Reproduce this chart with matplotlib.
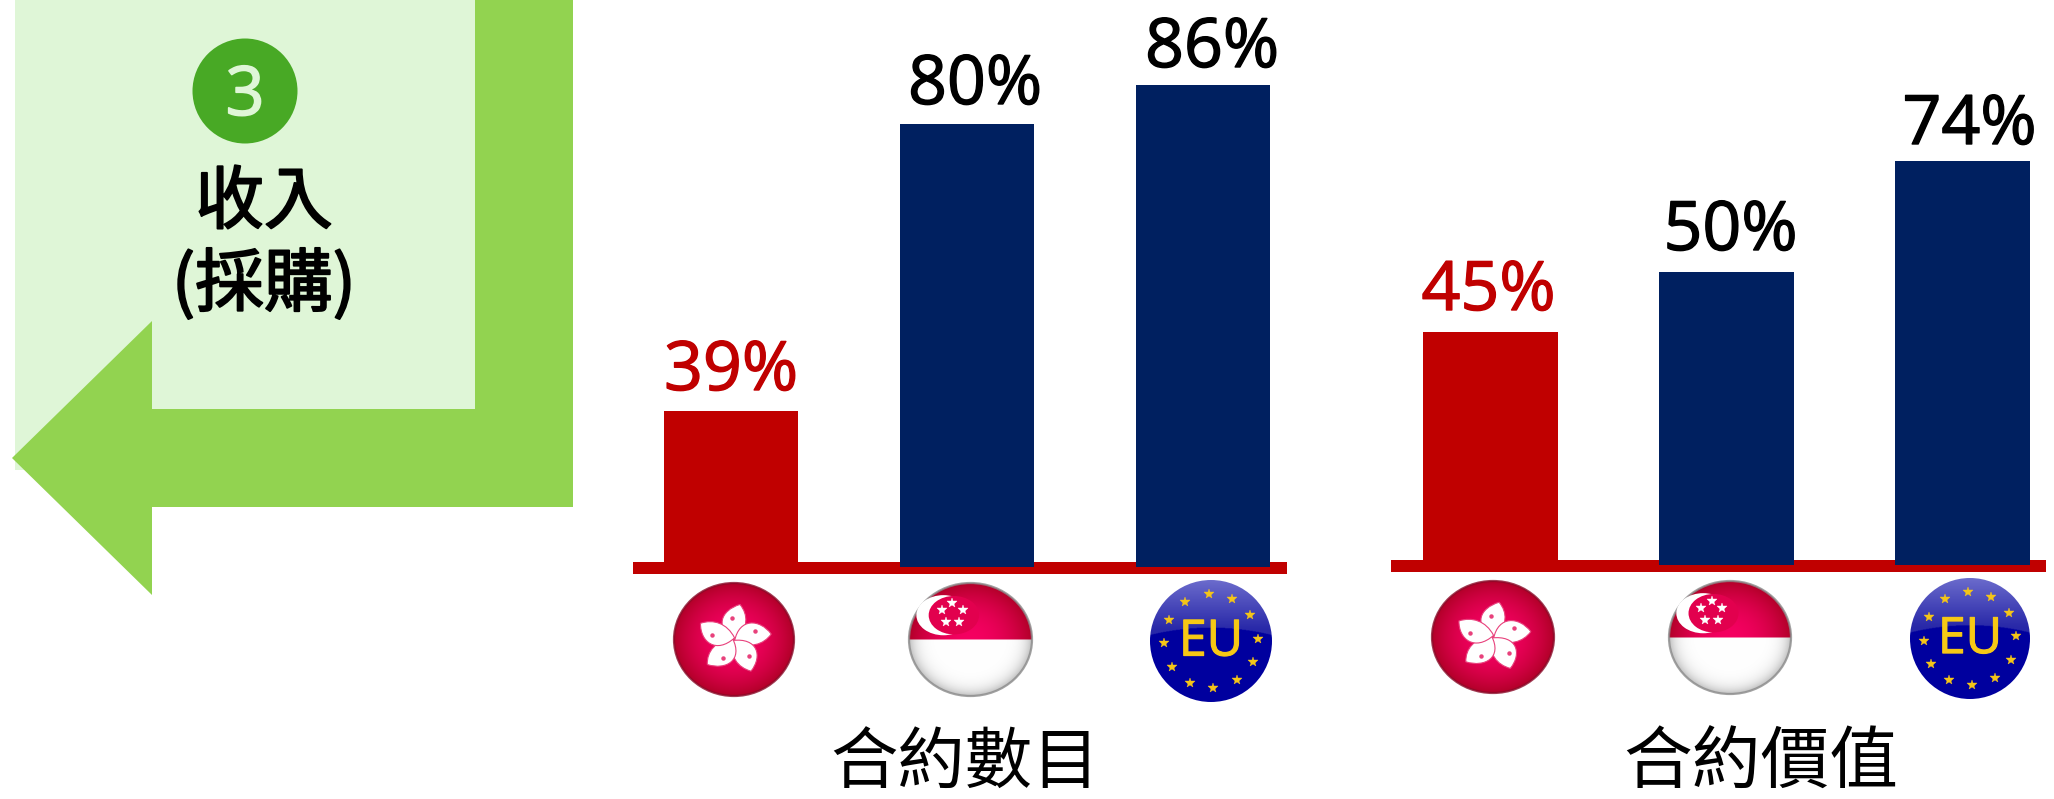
import numpy as np
import matplotlib
matplotlib.use("Agg")
from matplotlib import pyplot as plt
from matplotlib import patheffects as pe
from matplotlib.patches import Circle, Ellipse, PathPatch, Polygon, Rectangle
from matplotlib.path import Path

W, H = 2054, 799
CJK = ["Noto Sans CJK TC", "DejaVu Sans"]
LATIN = ["Open Sans", "DejaVu Sans"]
RED = "#C00000"
NAVY = "#002060"

flags = ["hk", "sg", "eu"]
count_labels = ["39%", "80%", "86%"]
value_labels = ["45%", "50%", "74%"]
# bar heights as drawn in the picture (pixels), they do not scale with the labels
count_heights = [156, 443, 482]
value_heights = [233, 293, 404]
count_title = "合約數目"
value_title = "合約價值"
badge_number = "3"
side_lines = ["收入", "(採購)"]


def heavy(text, width, color):
    text.set_path_effects([pe.withStroke(linewidth=width, foreground=color)])


def pixel_axes(fig, left, right, top, bottom):
    return fig.add_axes([left / W, 1 - bottom / H, (right - left) / W, (bottom - top) / H])


def bar_panel(fig, left, right, baseline, first, step, heights, labels, label_gaps, label_shift):
    ax = pixel_axes(fig, left, right, 0, baseline + 16)
    ax.set_xlim((left - first) / step, (right - first) / step)
    ax.set_ylim(-16, baseline)
    ax.axis("off")
    ax.add_patch(Rectangle((ax.get_xlim()[0], -7), np.diff(ax.get_xlim())[0], 12, color=RED, lw=0, zorder=1))
    colors = [RED, NAVY, NAVY]
    ax.bar(range(3), heights, width=0.572, color=colors, zorder=2)
    for i, (h, lab) in enumerate(zip(heights, labels)):
        color = colors[i] if i == 0 else "black"
        t = ax.text(i + label_shift[i] / step, h + label_gaps[i], lab, color=color,
                    ha="center", va="baseline", fontsize=49, family=LATIN, zorder=3)
        heavy(t, 1.0, color)
    return ax


def gradient(ax, cx, cy, rx, ry, kind):
    yy, xx = np.mgrid[-1:1:240j, -1:1:240j]
    r = np.clip(np.hypot(xx, yy), 0, 1)[..., None]
    if kind == "eu":
        top = np.array([0.42, 0.42, 0.80])
        mid = np.array([0.16, 0.16, 0.66])
        low = np.array([0.0, 0.0, 0.62])
        t = np.clip((yy[..., None] + 1) / 0.8, 0, 1)
        img = top * (1 - t) + mid * t
        edge = -0.22 + 0.12 * xx[..., None] ** 2
        img = np.where(yy[..., None] > edge, low, img)
    else:
        inner = np.array([0.96, 0.0, 0.38])
        outer = np.array([0.70, 0.0, 0.16])
        img = inner * (1 - r ** 2) + outer * r ** 2
        if kind == "sg":
            white = np.array([1.0, 1.0, 1.0]) * (1 - 0.25 * r ** 8)
            img = np.where(yy[..., None] > 0, white, img)
    im = ax.imshow(img, extent=(cx - rx, cx + rx, cy + ry, cy - ry), aspect="auto", zorder=2, interpolation="bilinear")
    clip = Ellipse((cx, cy), 2 * rx, 2 * ry, transform=ax.transData)
    im.set_clip_path(clip)
    if kind != "eu":
        ax.add_patch(Ellipse((cx, cy), 2 * rx, 2 * ry, fc="none", ec="#8a8a8a" if kind == "sg" else "#8a0a28",
                             lw=1.6, alpha=0.8, zorder=3))


def draw_hk(ax, cx, cy, rx, ry):
    gradient(ax, cx, cy, rx, ry, "hk")
    codes = [Path.MOVETO, Path.CURVE4, Path.CURVE4, Path.CURVE4, Path.CURVE4, Path.CURVE4, Path.CURVE4, Path.CLOSEPOLY]
    petal = np.array([[0.03, 0.0], [-0.34, 0.2], [-0.22, 0.52], [0.1, 0.62],
                      [0.24, 0.44], [0.24, 0.2], [0.03, 0.0], [0.03, 0.0]])
    for deg in [0, -72, -144, -216, -288]:
        a = np.radians(deg)
        rot = np.array([[np.cos(a), -np.sin(a)], [np.sin(a), np.cos(a)]])
        pts = petal @ rot.T
        verts = np.column_stack([cx + pts[:, 0] * rx, cy - pts[:, 1] * ry])
        ax.add_patch(PathPatch(Path(verts, codes), fc="white", ec="#e8417c", lw=0.8, zorder=4))
        dot = rot @ np.array([-0.04, 0.38])
        ax.plot(cx + dot[0] * rx, cy - dot[1] * ry, "o", ms=2.2, color="#e8417c", zorder=5)


def draw_sg(ax, cx, cy, rx, ry):
    gradient(ax, cx, cy, rx, ry, "sg")
    ax.add_patch(Ellipse((cx - 0.44 * rx, cy - 0.43 * ry), 0.88 * rx, 0.71 * ry, fc="white", lw=0, zorder=4))
    ax.add_patch(Ellipse((cx - 0.27 * rx, cy - 0.43 * ry), 0.82 * rx, 0.68 * ry, fc="#e2004e", lw=0, zorder=5))
    for a in np.radians([90, 18, -54, -126, 162]):
        ax.plot(cx - 0.3 * rx + 0.18 * rx * np.cos(a), cy - 0.46 * ry - 0.18 * ry * np.sin(a), "*",
                ms=7.5, mfc="white", mec="white", mew=0.3, zorder=6)


def draw_eu(ax, cx, cy, rx, ry):
    gradient(ax, cx, cy, rx, ry, "eu")
    for a in np.radians(np.arange(0, 360, 30) + 3):
        ax.plot(cx + 0.77 * rx * np.cos(a), cy - 0.77 * ry * np.sin(a), "*", ms=7.5, mfc="#F5C518", mec="#F5C518",
                mew=0.3, zorder=4)
    t = ax.text(cx, cy + 0.03 * ry, "EU", color="#F7C815", ha="center", va="center", fontsize=36, family=LATIN, zorder=5)
    heavy(t, 0.8, "#F7C815")


def draw_flag(ax, kind, left, right, top, bottom):
    cx, cy, rx, ry = (left + right) / 2, (top + bottom) / 2, (right - left) / 2, (bottom - top) / 2
    {"hk": draw_hk, "sg": draw_sg, "eu": draw_eu}[kind](ax, cx, cy, rx, ry)


fig = plt.figure(figsize=(W / 100, H / 100), dpi=100, facecolor="white")

bar_panel(fig, 633, 1287, 567, 731, 236, count_heights, count_labels, [21, 20, 18], [0, 8, 9])
bar_panel(fig, 1391, 2046, 565, 1490.5, 236, value_heights, value_labels, [22, 22, 17], [-2, 4, 7])

ax = fig.add_axes([0, 0, 1, 1], zorder=5)
ax.patch.set_alpha(0)
ax.axis("off")

# side arrow block
ax.add_patch(Rectangle((15, 0), 460, 470, fc="#DFF6D7", lw=0, zorder=1))
ax.add_patch(Polygon([(573, 0), (573, 507), (152, 507), (152, 595), (12, 458), (152, 321),
                      (152, 409), (475, 409), (475, 0)], closed=True, fc="#92D350", lw=0, zorder=2))
ax.add_patch(Circle((245, 91), 52.5, fc="#48A925", lw=0, zorder=3))
t = ax.text(245, 115, badge_number, color="#DFF6D7", ha="center", va="baseline", fontsize=49, family=LATIN, zorder=4)
heavy(t, 1.2, "#DFF6D7")
t = ax.text(264, 204, side_lines[0], color="black", ha="center", va="center", fontsize=49.5, family=CJK, zorder=4)
heavy(t, 1.4, "black")
t = ax.text(264, 286, side_lines[1], color="black", ha="center", va="center", fontsize=49.5, family=CJK, zorder=4)
heavy(t, 1.4, "black")

# round flags below the bars
count_boxes = [(674, 794, 583, 696), (909, 1032, 583, 696), (1150, 1272, 580, 702)]
value_boxes = [(1432, 1554, 581, 693), (1669, 1791, 581, 694), (1910, 2030, 578, 699)]
for kind, box in zip(flags, count_boxes):
    draw_flag(ax, kind, *box)
for kind, box in zip(flags, value_boxes):
    draw_flag(ax, kind, *box)

ax.text(965, 765, count_title, color="black", ha="center", va="center", fontsize=48.5, family=CJK, zorder=4)
ax.text(1761, 765, value_title, color="black", ha="center", va="center", fontsize=49.5, family=CJK, zorder=4)

ax.set_xlim(0, W)
ax.set_ylim(H, 0)

fig.savefig("out.png", dpi=100)
